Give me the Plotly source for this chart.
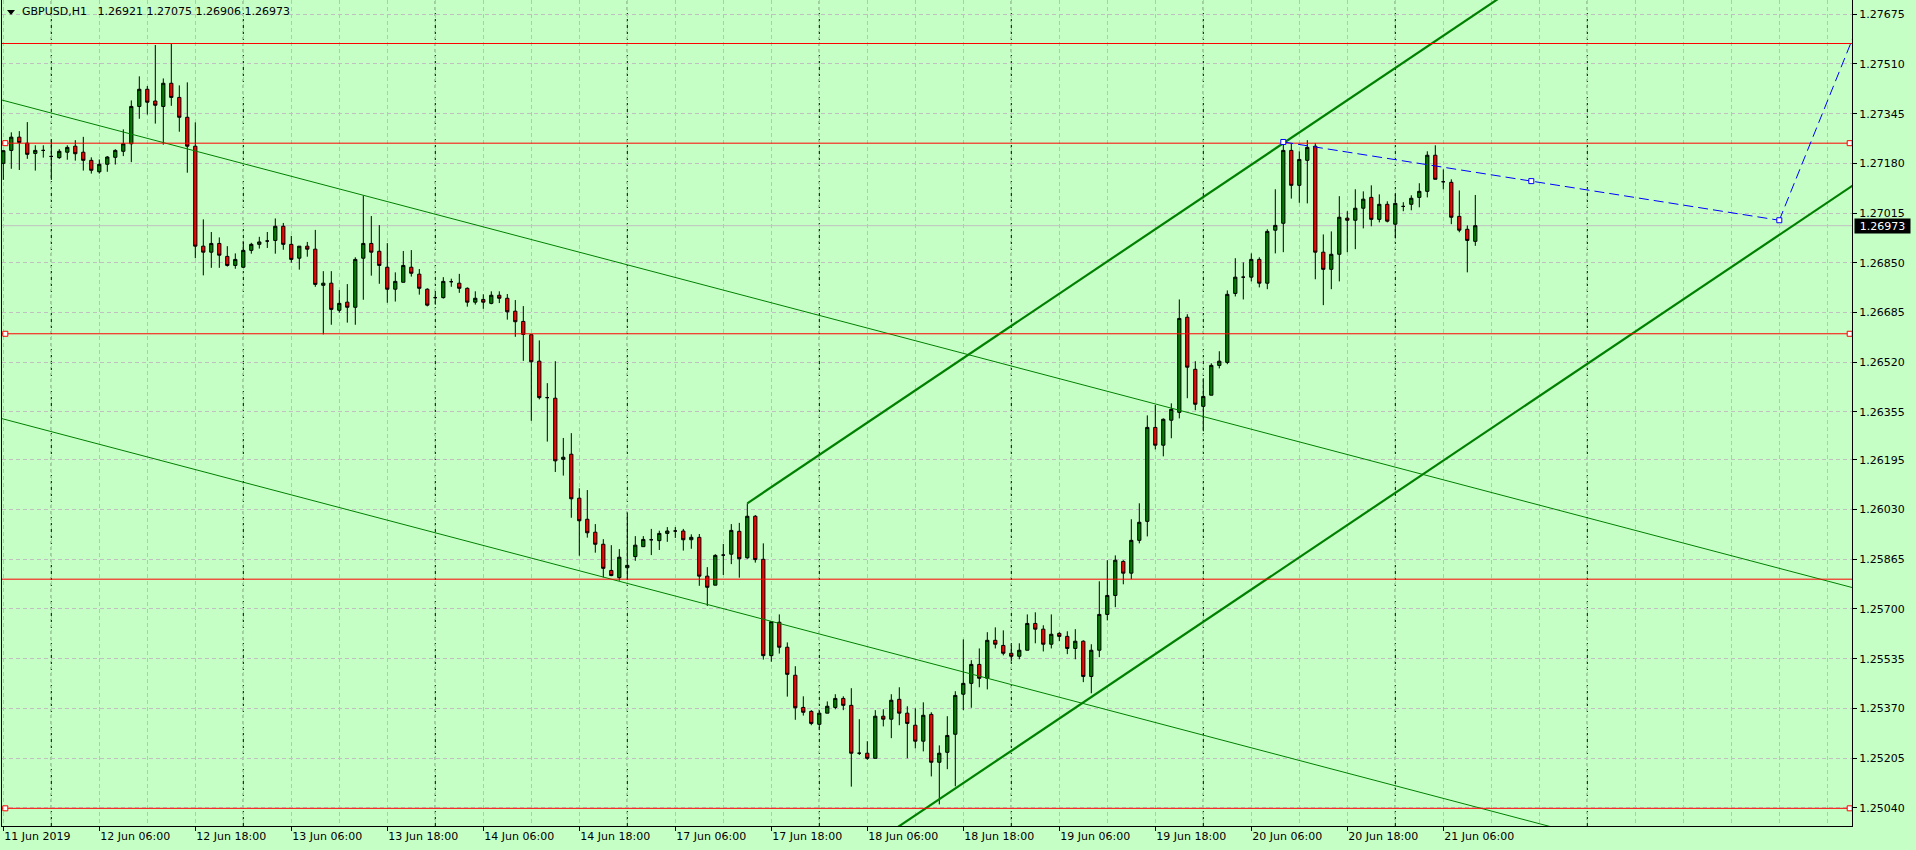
import plotly.graph_objects as go

# ---------------- data ----------------
symbol = "GBPUSD,H1"

bar_open = [
    1.27180, 1.27223, 1.27267, 1.27247, 1.27213, 1.27223, 1.27203, 1.27199, 1.27217, 1.27237,
    1.27217, 1.27190, 1.27152, 1.27177, 1.27200, 1.27220, 1.27245, 1.27369, 1.27426, 1.27387,
    1.27369, 1.27446, 1.27399, 1.27333, 1.27237, 1.26905, 1.26885, 1.26914, 1.26871, 1.26841,
    1.26835, 1.26891, 1.26911, 1.26922, 1.26924, 1.26971, 1.26911, 1.26865, 1.26905, 1.26895,
    1.26775, 1.26782, 1.26692, 1.26719, 1.26702, 1.26865, 1.26914, 1.26888, 1.26835, 1.26762,
    1.26785, 1.26835, 1.26812, 1.26762, 1.26734, 1.26734, 1.26787, 1.26782, 1.26765, 1.26719,
    1.26728, 1.26715, 1.26742, 1.26732, 1.26689, 1.26655, 1.26611, 1.26523, 1.26402, 1.26400,
    1.26197, 1.26214, 1.26068, 1.25998, 1.25955, 1.25915, 1.25828, 1.25804, 1.25837, 1.25874,
    1.25907, 1.25930, 1.25927, 1.25951, 1.25959, 1.25959, 1.25930, 1.25938, 1.25809, 1.25779,
    1.25879, 1.25882, 1.25958, 1.25870, 1.26008, 1.25865, 1.25545, 1.25656, 1.25573, 1.25480,
    1.25373, 1.25360, 1.25317, 1.25354, 1.25373, 1.25403, 1.25380, 1.25221, 1.25221, 1.25204,
    1.25344, 1.25334, 1.25400, 1.25354, 1.25314, 1.25261, 1.25350, 1.25191, 1.25224, 1.25284,
    1.25417, 1.25453, 1.25516, 1.25470, 1.25596, 1.25579, 1.25553, 1.25543, 1.25563, 1.25652,
    1.25633, 1.25583, 1.25619, 1.25609, 1.25569, 1.25593, 1.25476, 1.25563, 1.25682, 1.25745,
    1.25858, 1.25819, 1.25928, 1.25991, 1.26303, 1.26244, 1.26327, 1.26353, 1.26669, 1.26496,
    1.26373, 1.26410, 1.26509, 1.26519, 1.26748, 1.26802, 1.26802, 1.26861, 1.26782, 1.26958,
    1.26981, 1.27223, 1.27107, 1.27190, 1.27237, 1.26885, 1.26828, 1.26878, 1.26998, 1.26991,
    1.27031, 1.27067, 1.26994, 1.27044, 1.26978, 1.27037, 1.27044, 1.27067, 1.27087, 1.27207,
    1.27119, 1.27117, 1.27004, 1.26961, 1.26921,
]
bar_high = [
    1.27222, 1.27283, 1.27287, 1.27317, 1.27240, 1.27240, 1.27258, 1.27227, 1.27240, 1.27257,
    1.27268, 1.27200, 1.27193, 1.27204, 1.27227, 1.27293, 1.27389, 1.27469, 1.27437, 1.27573,
    1.27462, 1.27579, 1.27439, 1.27449, 1.27316, 1.26994, 1.26952, 1.26934, 1.26905, 1.26881,
    1.26921, 1.26916, 1.26936, 1.26952, 1.26997, 1.26982, 1.26939, 1.26905, 1.26919, 1.26959,
    1.26822, 1.26822, 1.26759, 1.26779, 1.26868, 1.27073, 1.27005, 1.26975, 1.26915, 1.26818,
    1.26889, 1.26892, 1.26829, 1.26765, 1.26754, 1.26802, 1.26797, 1.26813, 1.26768, 1.26755,
    1.26745, 1.26755, 1.26755, 1.26746, 1.26726, 1.26706, 1.26611, 1.26592, 1.26450, 1.26523,
    1.26268, 1.26284, 1.26101, 1.26095, 1.25982, 1.25932, 1.25912, 1.25899, 1.26021, 1.25942,
    1.25942, 1.25966, 1.25960, 1.25972, 1.25972, 1.25966, 1.25948, 1.25949, 1.25839, 1.25882,
    1.25916, 1.25982, 1.25986, 1.26051, 1.26012, 1.25918, 1.25658, 1.25682, 1.25589, 1.25510,
    1.25410, 1.25364, 1.25364, 1.25393, 1.25417, 1.25410, 1.25437, 1.25334, 1.25261, 1.25364,
    1.25367, 1.25417, 1.25440, 1.25377, 1.25370, 1.25390, 1.25357, 1.25247, 1.25344, 1.25427,
    1.25599, 1.25530, 1.25569, 1.25623, 1.25639, 1.25629, 1.25583, 1.25586, 1.25682, 1.25689,
    1.25646, 1.25682, 1.25623, 1.25626, 1.25633, 1.25596, 1.25583, 1.25792, 1.25862, 1.25878,
    1.25862, 1.25998, 1.26051, 1.26343, 1.26378, 1.26333, 1.26383, 1.26728, 1.26679, 1.26523,
    1.26466, 1.26516, 1.26556, 1.26758, 1.26865, 1.26851, 1.26881, 1.26868, 1.26961, 1.27094,
    1.27257, 1.27247, 1.27220, 1.27257, 1.27247, 1.26944, 1.26954, 1.27071, 1.27021, 1.27094,
    1.27087, 1.27107, 1.27077, 1.27054, 1.27077, 1.27051, 1.27074, 1.27114, 1.27220, 1.27240,
    1.27160, 1.27127, 1.27090, 1.26974, 1.27075,
]
bar_low = [
    1.27125, 1.27162, 1.27158, 1.27195, 1.27156, 1.27199, 1.27125, 1.27195, 1.27192, 1.27189,
    1.27156, 1.27146, 1.27146, 1.27152, 1.27176, 1.27204, 1.27184, 1.27328, 1.27342, 1.27312,
    1.27242, 1.27371, 1.27285, 1.27149, 1.26865, 1.26808, 1.26833, 1.26833, 1.26837, 1.26830,
    1.26832, 1.26880, 1.26897, 1.26899, 1.26880, 1.26893, 1.26850, 1.26827, 1.26870, 1.26770,
    1.26612, 1.26644, 1.26684, 1.26651, 1.26644, 1.26727, 1.26807, 1.26780, 1.26717, 1.26721,
    1.26785, 1.26804, 1.26744, 1.26705, 1.26711, 1.26731, 1.26770, 1.26750, 1.26704, 1.26711,
    1.26697, 1.26712, 1.26716, 1.26661, 1.26604, 1.26524, 1.26325, 1.26396, 1.26256, 1.26155,
    1.26143, 1.26003, 1.25877, 1.25937, 1.25887, 1.25805, 1.25809, 1.25794, 1.25796, 1.25860,
    1.25907, 1.25879, 1.25896, 1.25923, 1.25936, 1.25894, 1.25900, 1.25777, 1.25710, 1.25779,
    1.25813, 1.25849, 1.25804, 1.25867, 1.25854, 1.25532, 1.25525, 1.25552, 1.25409, 1.25332,
    1.25346, 1.25314, 1.25298, 1.25354, 1.25367, 1.25364, 1.25110, 1.25215, 1.25199, 1.25204,
    1.25310, 1.25271, 1.25314, 1.25204, 1.25237, 1.25227, 1.25144, 1.25051, 1.25168, 1.25111,
    1.25364, 1.25372, 1.25440, 1.25433, 1.25569, 1.25546, 1.25526, 1.25533, 1.25563, 1.25586,
    1.25559, 1.25569, 1.25593, 1.25550, 1.25533, 1.25457, 1.25420, 1.25540, 1.25662, 1.25706,
    1.25782, 1.25799, 1.25918, 1.25941, 1.26230, 1.26207, 1.26267, 1.26333, 1.26400, 1.26360,
    1.26290, 1.26410, 1.26499, 1.26513, 1.26738, 1.26728, 1.26788, 1.26768, 1.26762, 1.26881,
    1.26885, 1.27063, 1.27049, 1.27047, 1.26795, 1.26709, 1.26762, 1.26788, 1.26885, 1.26895,
    1.26964, 1.26971, 1.26984, 1.26984, 1.26931, 1.27021, 1.27024, 1.27034, 1.27067, 1.27127,
    1.27094, 1.26978, 1.26951, 1.26818, 1.26906,
]
bar_close = [
    1.27222, 1.27267, 1.27249, 1.27210, 1.27223, 1.27223, 1.27203, 1.27220, 1.27233, 1.27212,
    1.27190, 1.27157, 1.27177, 1.27201, 1.27223, 1.27245, 1.27369, 1.27426, 1.27383, 1.27373,
    1.27446, 1.27399, 1.27333, 1.27237, 1.26905, 1.26885, 1.26914, 1.26875, 1.26841, 1.26861,
    1.26891, 1.26911, 1.26919, 1.26922, 1.26971, 1.26911, 1.26861, 1.26905, 1.26895, 1.26778,
    1.26782, 1.26695, 1.26715, 1.26702, 1.26861, 1.26914, 1.26885, 1.26841, 1.26762, 1.26788,
    1.26841, 1.26815, 1.26765, 1.26709, 1.26734, 1.26788, 1.26787, 1.26765, 1.26719, 1.26732,
    1.26719, 1.26742, 1.26732, 1.26687, 1.26654, 1.26612, 1.26521, 1.26402, 1.26402, 1.26192,
    1.26204, 1.26066, 1.25993, 1.25953, 1.25915, 1.25835, 1.25811, 1.25872, 1.25845, 1.25912,
    1.25931, 1.25930, 1.25951, 1.25959, 1.25959, 1.25930, 1.25938, 1.25809, 1.25772, 1.25878,
    1.25879, 1.25961, 1.25867, 1.26008, 1.25864, 1.25545, 1.25658, 1.25573, 1.25483, 1.25372,
    1.25357, 1.25320, 1.25354, 1.25377, 1.25403, 1.25380, 1.25221, 1.25221, 1.25204, 1.25344,
    1.25334, 1.25397, 1.25354, 1.25320, 1.25261, 1.25347, 1.25191, 1.25221, 1.25280, 1.25413,
    1.25453, 1.25516, 1.25470, 1.25596, 1.25583, 1.25553, 1.25543, 1.25563, 1.25652, 1.25633,
    1.25583, 1.25616, 1.25609, 1.25569, 1.25593, 1.25476, 1.25563, 1.25682, 1.25745, 1.25862,
    1.25819, 1.25928, 1.25988, 1.26303, 1.26244, 1.26330, 1.26363, 1.26665, 1.26503, 1.26380,
    1.26406, 1.26509, 1.26523, 1.26745, 1.26802, 1.26802, 1.26861, 1.26782, 1.26954, 1.26974,
    1.27223, 1.27107, 1.27193, 1.27233, 1.26885, 1.26828, 1.26878, 1.27001, 1.26991, 1.27031,
    1.27061, 1.26994, 1.27044, 1.26988, 1.27047, 1.27037, 1.27064, 1.27087, 1.27207, 1.27127,
    1.27119, 1.27001, 1.26958, 1.26924, 1.26973,
]
bar_index = list(range(len(bar_open)))

x_tick_bars = [0, 12, 24, 36, 48, 60, 72, 84, 96, 108, 120, 132, 144, 156, 168, 180]
x_tick_labels = [
    "11 Jun 2019", "12 Jun 06:00", "12 Jun 18:00", "13 Jun 06:00", "13 Jun 18:00",
    "14 Jun 06:00", "14 Jun 18:00", "17 Jun 06:00", "17 Jun 18:00", "18 Jun 06:00",
    "18 Jun 18:00", "19 Jun 06:00", "19 Jun 18:00", "20 Jun 06:00", "20 Jun 18:00",
    "21 Jun 06:00",
]
y_tick_values = [1.25040, 1.25205, 1.25370, 1.25535, 1.25700, 1.25865, 1.26030, 1.26195,
                 1.26355, 1.26520, 1.26685, 1.26850, 1.27015, 1.27180, 1.27345, 1.27510, 1.27675]
y_tick_labels = ["%.5f" % v for v in y_tick_values]

day_separator_bars = [6, 30, 54, 78, 102, 126, 150, 174, 198]

red_levels = [1.27578, 1.27247, 1.26614, 1.25799, 1.25038]
red_level_selected = [False, True, True, False, True]

bid_price = 1.26973

thin_channel_bars = [-1, 232]
thin_upper_prices = [1.27396, 1.25765]
thin_lower_prices = [1.26338, 1.24707]

thick_channel_bars = [93, 232]
thick_upper_prices = [1.26051, 1.28532]
thick_lower_prices = [1.24640, 1.27121]

blue_line1_bars = [160, 222]
blue_line1_prices = [1.27251, 1.26991]
blue_marker_bars = [160, 191, 222]
blue_marker_prices = [1.27251, 1.27121, 1.26991]
blue_line2_bars = [222, 233]
blue_line2_prices = [1.26991, 1.27715]

# ---------------- styling ----------------
W, H = 1916, 850
PL, PR, PT, PB = 2, 1852, 0, 826
BG = "#C6FFC6"
GRID = "#C0C0C0"
GREEN = "#008000"
FONT = "DejaVu Sans"

x_range = [-0.1625, 231.0875]
y_range = [1.249793, 1.277225]

def px_x(px):
    return (px - PL) / (PR - PL)

def px_y(py):
    return 1 - (py - PT) / (PB - PT)

fig = go.Figure()

shapes = []
for b in day_separator_bars:
    shapes.append(dict(type="line", xref="x", yref="paper", x0=b, x1=b, y0=0, y1=1,
                       line=dict(color="black", width=1, dash="3px,3px"), layer="below"))
shapes.append(dict(type="line", xref="paper", yref="y", x0=0, x1=1, y0=bid_price, y1=bid_price,
                   line=dict(color=GRID, width=1), layer="below"))
# menu triangle in the top-left corner
tri = "M %f,%f L %f,%f L %f,%f Z" % (px_x(7), px_y(10), px_x(15), px_y(10), px_x(11), px_y(15))
shapes.append(dict(type="path", xref="paper", yref="paper", path=tri,
                   fillcolor="black", line=dict(color="black", width=0)))

fig.add_trace(go.Candlestick(
    x=bar_index, open=bar_open, high=bar_high, low=bar_low, close=bar_close,
    increasing=dict(fillcolor=GREEN, line=dict(color="black", width=1)),
    decreasing=dict(fillcolor="#FF0000", line=dict(color="black", width=1)),
    whiskerwidth=0, hoverinfo="skip", showlegend=False,
))

def add_line(xs, ys, color, width, dash=None):
    fig.add_trace(go.Scatter(x=xs, y=ys, mode="lines",
                             line=dict(color=color, width=width, dash=dash),
                             hoverinfo="skip", showlegend=False))

add_line(thin_channel_bars, thin_upper_prices, GREEN, 1)
add_line(thin_channel_bars, thin_lower_prices, GREEN, 1)
add_line(thick_channel_bars, thick_upper_prices, GREEN, 2.2)
add_line(thick_channel_bars, thick_lower_prices, GREEN, 2.2)

for lvl in red_levels:
    add_line(x_range, [lvl, lvl], "#FF0000", 1)

add_line(blue_line1_bars, blue_line1_prices, "#0000FF", 1, "10px,5px")
add_line(blue_line2_bars, blue_line2_prices, "#0000FF", 1, "10px,5px")

sel_x, sel_y = [], []
for lvl, sel in zip(red_levels, red_level_selected):
    if sel:
        sel_x += [0.25, 230.8]
        sel_y += [lvl, lvl]
fig.add_trace(go.Scatter(x=sel_x, y=sel_y, mode="markers",
                         marker=dict(symbol="square", size=5, color="white",
                                     line=dict(color="#FF0000", width=1)),
                         hoverinfo="skip", showlegend=False, cliponaxis=False))
fig.add_trace(go.Scatter(x=blue_marker_bars, y=blue_marker_prices, mode="markers",
                         marker=dict(symbol="square", size=5, color="white",
                                     line=dict(color="#0000FF", width=1)),
                         hoverinfo="skip", showlegend=False))

title_text = "%s\u00a0\u00a0 %.5f %.5f %.5f %.5f" % (
    symbol, bar_open[-1], bar_high[-1], bar_low[-1], bar_close[-1])

annotations = [
    dict(text=title_text, xref="paper", yref="paper", x=px_x(20), y=1,
         xanchor="left", yanchor="top", yshift=-3, showarrow=False,
         font=dict(family=FONT, size=11, color="black"), borderpad=1),
    dict(text="%.5f" % bid_price, xref="paper", yref="y", x=1, y=bid_price,
         xanchor="left", yanchor="middle", xshift=2, showarrow=False,
         bgcolor="black", font=dict(family=FONT, size=11, color="white"),
         borderpad=1, width=53, height=12),
]

fig.update_layout(
    width=W, height=H,
    margin=dict(l=PL, r=W - PR, t=PT, b=H - PB, pad=0),
    paper_bgcolor=BG, plot_bgcolor=BG,
    showlegend=False,
    font=dict(family=FONT, size=11, color="black"),
    shapes=shapes, annotations=annotations,
    boxgap=0.42,
    xaxis=dict(
        range=x_range, rangeslider=dict(visible=False), fixedrange=True,
        tickmode="array", tickvals=x_tick_bars, ticktext=x_tick_labels,
        ticklabelposition="outside right",
        ticks="outside", ticklen=4, tickcolor="black", tickwidth=1,
        showline=True, linecolor="black", linewidth=1,
        showgrid=True, gridcolor=GRID, griddash="4px,3px", gridwidth=1,
        zeroline=False,
        minor=dict(tickmode="linear", tick0=0, dtick=6, showgrid=True,
                   gridcolor=GRID, griddash="4px,3px", gridwidth=1, ticks=""),
        tickfont=dict(family=FONT, size=11, color="black"),
    ),
    yaxis=dict(
        range=y_range, side="right", fixedrange=True,
        tickmode="array", tickvals=y_tick_values, ticktext=y_tick_labels,
        ticks="outside", ticklen=4, tickcolor="black", tickwidth=1,
        showline=True, mirror=True, linecolor="black", linewidth=1,
        showgrid=True, gridcolor=GRID, griddash="4px,3px", gridwidth=1,
        zeroline=False,
        tickfont=dict(family=FONT, size=11, color="black"),
    ),
)

fig.write_html("out.html", config={"displayModeBar": False},
               post_script="document.body.style.margin='0';document.body.style.overflow='hidden';")
